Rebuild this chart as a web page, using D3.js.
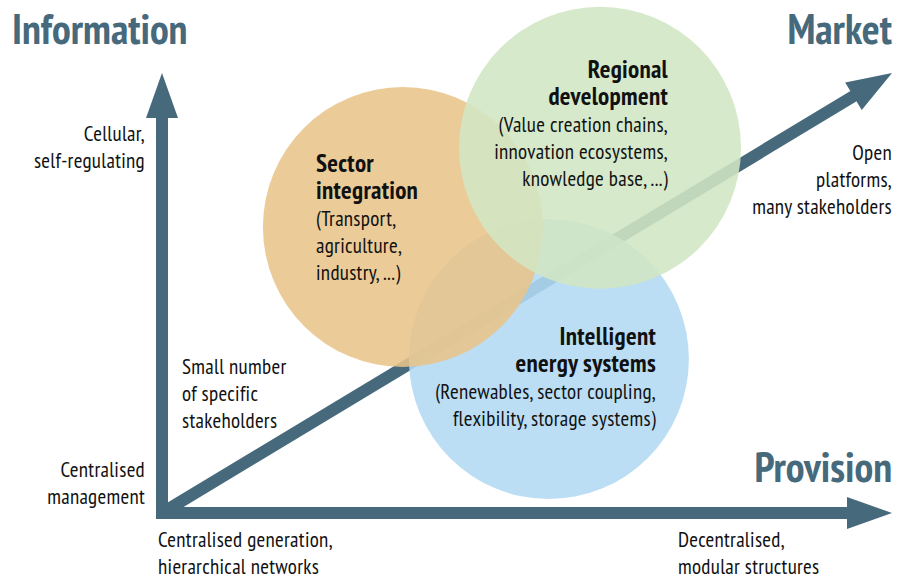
<!DOCTYPE html>
<html>
<head>
<meta charset="utf-8">
<script src="https://cdn.jsdelivr.net/npm/d3@7"></script>
<style>
  body { margin: 0; background: #fff; }
  svg text { font-family: "Liberation Sans Narrow", "PT Sans Narrow", "Roboto Condensed", sans-serif; }
</style>
</head>
<body>
<svg id="chart" width="910" height="579"></svg>
<script>
// axis ends in a 0..1 concept space: x = provision, y = information
const axes = [
    { name: "information", from: [0, 0], to: [0, 1] },
    { name: "provision", from: [0, 0], to: [1, 0] },
    { name: "market", from: [0, 0], to: [1, 1] }
];

const titles = [
    { text: "Information", x: 12, y: 44, anchor: "start" },
    { text: "Market", x: 892, y: 44, anchor: "end" },
    { text: "Provision", x: 892, y: 482, anchor: "end" }
];

// circles, in drawing order, centres in concept space
const circleNames = ["Intelligent energy systems", "Sector integration", "Regional development"];
const circleCx = [0.53, 0.33, 0.6];
const circleCy = [0.35, 0.65, 0.83];
const circleR = [140, 140, 141];
const circleColors = ["#b2d9f3", "#e8c48a", "#d2e6c4"];

const notes = [
    { lines: ["Cellular,", "self-regulating"], x: 145, y: 141, anchor: "end" },
    { lines: ["Small number", "of specific", "stakeholders"], x: 182, y: 374, anchor: "start" },
    { lines: ["Centralised", "management"], x: 145, y: 477, anchor: "end" },
    { lines: ["Centralised generation,", "hierarchical networks"], x: 158, y: 547, anchor: "start" },
    { lines: ["Decentralised,", "modular structures"], x: 678, y: 547, anchor: "start" },
    { lines: ["Open", "platforms,", "many stakeholders"], x: 892, y: 160, anchor: "end" }
];

const blocks = [
    { bold: ["Sector", "integration"], lines: ["(Transport,", "agriculture,", "industry, ...)"], x: 316, y: 172, anchor: "start" },
    { bold: ["Regional", "development"], lines: ["(Value creation chains,", "innovation ecosystems,", "knowledge base, ...)"], x: 668, y: 78, anchor: "end" },
    { bold: ["Intelligent", "energy systems"], lines: ["(Renewables, sector coupling,", "flexibility, storage systems)"], x: 656, y: 345, anchor: "end" }
];

const svg = d3.select("#chart");
const ink = "#466a7c";
const lineH = 27;

const x = d3.scaleLinear().domain([0, 1]).range([162, 892]);
const y = d3.scaleLinear().domain([0, 1]).range([513, 73]);

// arrows
const headLen = 45, headHalf = 16, shaft = 12;
axes.forEach(a => {
    const x0 = x(a.from[0]), y0 = y(a.from[1]);
    const x1 = x(a.to[0]), y1 = y(a.to[1]);
    const len = Math.hypot(x1 - x0, y1 - y0);
    const ux = (x1 - x0) / len, uy = (y1 - y0) / len;
    const bx = x1 - ux * headLen, by = y1 - uy * headLen;
    svg.append("line")
        .attr("x1", x0 - ux * (a.name == "market" ? 0 : shaft / 2))
        .attr("y1", y0 - uy * (a.name == "market" ? 0 : shaft / 2))
        .attr("x2", bx + ux * 2).attr("y2", by + uy * 2)
        .attr("stroke", ink).attr("stroke-width", shaft);
    svg.append("path")
        .attr("d", `M${x1},${y1}L${bx - uy * headHalf},${by + ux * headHalf}L${bx + uy * headHalf},${by - ux * headHalf}Z`)
        .attr("fill", ink);
});

// circles
svg.selectAll("circle.topic")
    .data(circleNames)
    .join("circle")
    .attr("class", "topic")
    .attr("cx", (d, i) => x(circleCx[i]))
    .attr("cy", (d, i) => y(circleCy[i]))
    .attr("r", (d, i) => circleR[i])
    .attr("fill", (d, i) => circleColors[i])
    .attr("fill-opacity", 0.88);

// titles
svg.selectAll("text.title")
    .data(titles)
    .join("text")
    .attr("class", "title")
    .attr("x", d => d.x).attr("y", d => d.y)
    .attr("text-anchor", d => d.anchor)
    .attr("font-size", 42).attr("font-weight", "bold")
    .attr("fill", ink)
    .text(d => d.text);

// small notes
notes.forEach(n => {
    const t = svg.append("text")
        .attr("text-anchor", n.anchor)
        .attr("font-size", 21).attr("letter-spacing", 0.3)
        .attr("fill", "#111");
    n.lines.forEach((l, i) => {
        t.append("tspan").attr("x", n.x).attr("y", n.y + i * lineH).text(l);
    });
});

// circle labels
blocks.forEach(b => {
    const t = svg.append("text")
        .attr("text-anchor", b.anchor)
        .attr("letter-spacing", 0.3)
        .attr("fill", "#111");
    b.bold.concat(b.lines).forEach((l, i) => {
        t.append("tspan")
            .attr("x", b.x).attr("y", b.y + i * lineH)
            .attr("font-size", i < b.bold.length ? 25 : 21)
            .attr("font-weight", i < b.bold.length ? "bold" : "normal")
            .text(l);
    });
});
</script>
</body>
</html>
